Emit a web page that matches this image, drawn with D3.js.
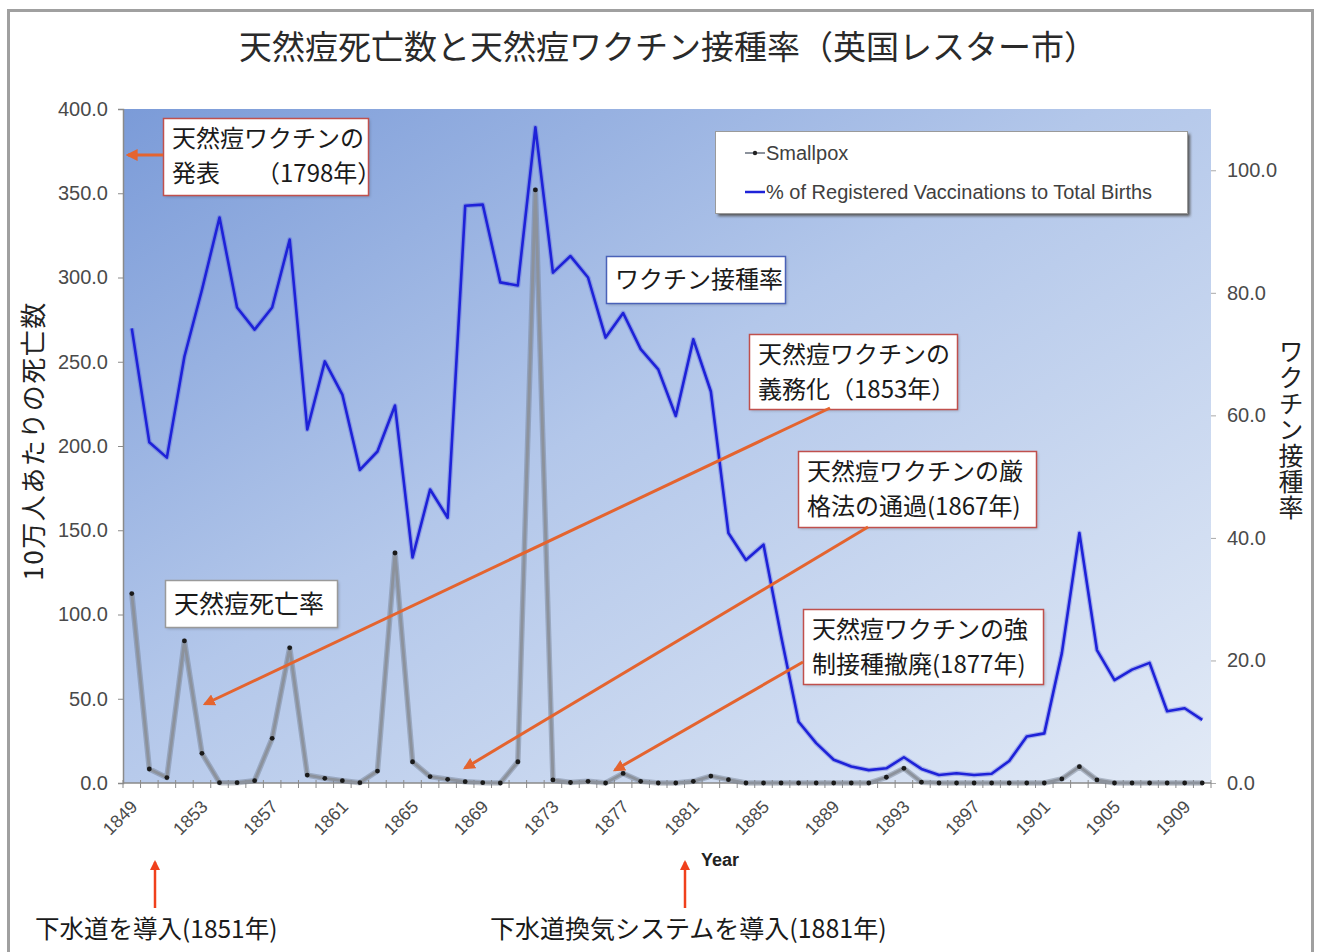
<!DOCTYPE html>
<html><head><meta charset="utf-8">
<script src="https://cdn.jsdelivr.net/npm/d3@7/dist/d3.min.js"></script>
<style>body{margin:0;background:#fff;}svg{display:block}</style>
</head><body>
<svg id="chart" width="1320" height="952"></svg>
<script>
// ---------- data ----------
const years = [1849,1850,1851,1852,1853,1854,1855,1856,1857,1858,1859,1860,1861,1862,1863,1864,1865,1866,1867,1868,1869,1870,1871,1872,1873,1874,1875,1876,1877,1878,1879,1880,1881,1882,1883,1884,1885,1886,1887,1888,1889,1890,1891,1892,1893,1894,1895,1896,1897,1898,1899,1900,1901,1902,1903,1904,1905,1906,1907,1908,1909,1910];
const smallpox = [112.4,8.3,3.2,84.3,17.6,0.2,0.2,1.4,26.5,80.2,4.7,2.8,1.4,0.2,7.1,136.5,12.6,3.8,2.2,0.8,0.2,0.0,12.6,352.0,1.8,0.3,1.0,0.0,5.7,1.0,0.0,0.0,1.0,4.1,2.0,0.0,0.0,0.0,0.0,0.0,0.0,0.0,0.0,3.4,8.7,0.5,0.0,0.0,0.0,0.0,0.0,0.0,0.0,2.4,9.7,1.8,0.0,0.0,0.0,0.0,0.0,0.0];
const vaccination = [74.2,55.6,53.1,69.6,80.5,92.3,77.6,74.0,77.6,88.7,57.7,68.8,63.4,51.1,54.1,61.6,36.8,47.9,43.3,94.2,94.4,81.7,81.2,107.0,83.3,86.0,82.5,72.7,76.7,70.8,67.5,59.9,72.4,63.9,40.8,36.4,38.9,24.0,10.0,6.5,3.8,2.7,2.1,2.4,4.2,2.3,1.3,1.6,1.3,1.5,3.6,7.6,8.1,21.2,40.8,21.7,16.8,18.5,19.6,11.7,12.2,10.3];
const yearLabels = [1849,1853,1857,1861,1865,1869,1873,1877,1881,1885,1889,1893,1897,1901,1905,1909];
const leftTicks = [0,50,100,150,200,250,300,350,400];
const rightTicks = [0,20,40,60,80,100];
const seriesNames = ["Smallpox","% of Registered Vaccinations to Total Births"];
const titleText = "天然痘死亡数と天然痘ワクチン接種率（英国レスター市）";
const leftTitle = "10万人あたりの死亡数";
const rightTitle = "ワクチン接種率";
const xTitle = "Year";

// ---------- layout ----------
const svg = d3.select("#chart");
const P = {l:123, r:1211, t:109, b:783};
const latin = "'Liberation Sans', Arial, sans-serif";
const jp = "'Noto Sans CJK JP', sans-serif";

const x = d3.scaleBand().domain(years).range([P.l, P.r]).padding(0);
const cx = d => x(d) + x.bandwidth()/2;
const yL = d3.scaleLinear().domain([0,400]).range([P.b, P.t]);
const yR = d3.scaleLinear().domain([0,110]).range([P.b, P.t]);

const defs = svg.append("defs");
const g = defs.append("linearGradient").attr("id","bg").attr("x1",0).attr("y1",0).attr("x2",1).attr("y2",1);
g.append("stop").attr("offset","0%").attr("stop-color","#7b9bd8");
g.append("stop").attr("offset","45%").attr("stop-color","#b3c7ea");
g.append("stop").attr("offset","100%").attr("stop-color","#e2eaf6");
const mk = defs.append("marker").attr("id","arr").attr("viewBox","0 0 10 10").attr("refX",8).attr("refY",5)
  .attr("markerWidth",4).attr("markerHeight",4).attr("orient","auto-start-reverse").attr("markerUnits","strokeWidth");
mk.append("path").attr("d","M0,0 L10,5 L0,10 z").attr("fill","#e4642f");
const mk2 = defs.append("marker").attr("id","arr2").attr("viewBox","0 0 10 10").attr("refX",8).attr("refY",5)
  .attr("markerWidth",4).attr("markerHeight",4).attr("orient","auto").attr("markerUnits","strokeWidth");
mk2.append("path").attr("d","M0,0 L10,5 L0,10 z").attr("fill","#f0401c");
const blur = defs.append("filter").attr("id","sh").attr("x","-5%").attr("y","-10%").attr("width","115%").attr("height","130%");
blur.append("feGaussianBlur").attr("stdDeviation",1.5);

// outer frame
svg.append("rect").attr("x",8.5).attr("y",10.5).attr("width",1304).attr("height",960)
  .attr("fill","#fff").attr("stroke","#a0a0a0").attr("stroke-width",3);

// title
svg.append("text").attr("x",668).attr("y",59).attr("text-anchor","middle")
  .attr("font-family",jp).attr("font-size",33).attr("fill","#2a2a2a").text(titleText);

// plot area
svg.append("rect").attr("x",P.l).attr("y",P.t).attr("width",P.r-P.l).attr("height",P.b-P.t).attr("fill","url(#bg)");

// left axis
const axL = svg.append("g").attr("transform",`translate(${P.l},0)`)
  .call(d3.axisLeft(yL).tickValues(leftTicks).tickFormat(d3.format(".1f")).tickSize(5).tickPadding(10));
axL.select(".domain").attr("stroke","#8a8a8a").attr("stroke-width",1.5);
axL.selectAll(".tick line").attr("stroke","#8a8a8a");
axL.selectAll("text").attr("font-family",latin).attr("font-size",20).attr("fill","#4a4a4a");

// right axis
const axR = svg.append("g").attr("transform",`translate(${P.r},0)`)
  .call(d3.axisRight(yR).tickValues(rightTicks).tickFormat(d3.format(".1f")).tickSize(5).tickPadding(11));
axR.select(".domain").remove();
axR.selectAll(".tick line").attr("stroke","#aaa");
axR.selectAll("text").attr("font-family",latin).attr("font-size",20).attr("fill","#4a4a4a");

// bottom axis
const axB = svg.append("g").attr("transform",`translate(0,${P.b})`);
axB.append("line").attr("x1",P.l).attr("x2",P.r).attr("stroke","#8a8a8a").attr("stroke-width",1.5);
axB.selectAll("line.tk").data(years.concat([null])).join("line").attr("class","tk")
  .attr("x1",(d,i)=> i<years.length ? x(d) : P.r).attr("x2",(d,i)=> i<years.length ? x(d) : P.r)
  .attr("y1",-3).attr("y2",5).attr("stroke","#8a8a8a");
axB.selectAll("text").data(yearLabels).join("text")
  .attr("transform",d=>`translate(${cx(d)-2},${16}) rotate(-45)`)
  .attr("text-anchor","end").attr("dy","0.7em")
  .attr("font-family",latin).attr("font-size",18).attr("fill","#4a4a4a").text(d=>d);

// axis titles
svg.append("text").attr("transform","translate(43,441) rotate(-90)").attr("text-anchor","middle")
  .attr("font-family",jp).attr("font-size",26).attr("letter-spacing",1.5).attr("fill","#222").text(leftTitle);
svg.append("text").attr("x",1291).attr("y",430).attr("text-anchor","middle")
  .style("writing-mode","vertical-rl").attr("font-family",jp).attr("font-size",25).attr("letter-spacing",1).attr("fill","#222").text(rightTitle);
svg.append("text").attr("x",720).attr("y",866).attr("text-anchor","middle")
  .attr("font-family",latin).attr("font-weight","bold").attr("font-size",18).attr("fill","#222").text(xTitle);

// smallpox line
const lineS = d3.line().x((d,i)=>cx(years[i])).y(d=>yL(d));
svg.append("path").datum(smallpox).attr("d",lineS).attr("fill","none")
  .attr("stroke","#6f7a8c").attr("stroke-width",5.5).attr("stroke-opacity",0.45).attr("stroke-linejoin","round");
svg.append("path").datum(smallpox).attr("d",lineS).attr("fill","none")
  .attr("stroke","#8c929c").attr("stroke-width",2.8).attr("stroke-linejoin","round");
svg.append("g").selectAll("circle").data(smallpox).join("circle")
  .attr("cx",(d,i)=>cx(years[i])).attr("cy",d=>yL(d)).attr("r",2.4).attr("fill","#1a1a1a");

// vaccination line
const lineV = d3.line().x((d,i)=>cx(years[i])).y(d=>yR(d));
svg.append("path").datum(vaccination).attr("d",lineV).attr("fill","none")
  .attr("stroke","#4a55e0").attr("stroke-width",5).attr("stroke-opacity",0.35).attr("stroke-linejoin","round");
svg.append("path").datum(vaccination).attr("d",lineV).attr("fill","none")
  .attr("stroke","#1e22d8").attr("stroke-width",2.6).attr("stroke-linejoin","round");

// legend
const lg = svg.append("g");
lg.append("rect").attr("x",718).attr("y",134).attr("width",472).attr("height",82).attr("fill","#555").attr("filter","url(#sh)");
lg.append("rect").attr("x",715.5).attr("y",131.5).attr("width",472).attr("height",82).attr("fill","#fff").attr("stroke","#9a9a9a");
lg.append("line").attr("x1",745).attr("x2",765).attr("y1",153).attr("y2",153).attr("stroke","#8c929c").attr("stroke-width",2);
lg.append("circle").attr("cx",755).attr("cy",153).attr("r",2.2).attr("fill","#222");
lg.append("line").attr("x1",745).attr("x2",765).attr("y1",192).attr("y2",192).attr("stroke","#1e22d8").attr("stroke-width",2.5);
lg.selectAll("text").data(seriesNames).join("text").attr("x",766).attr("y",(d,i)=>160+i*39)
  .attr("font-family",latin).attr("font-size",20).attr("fill","#404040").text(d=>d);

// annotations
const notes = [
  {x:163,y:118,w:205,h:77,stroke:"#c0504d",lines:["天然痘ワクチンの","発表　　（1798年）"],fs:24},
  {x:606,y:256,w:179,h:47,stroke:"#4a62b8",lines:["ワクチン接種率"],fs:24},
  {x:749,y:334,w:208,h:75,stroke:"#c0504d",lines:["天然痘ワクチンの","義務化（1853年）"],fs:24},
  {x:798,y:451,w:238,h:76,stroke:"#c0504d",lines:["天然痘ワクチンの厳","格法の通過(1867年)"],fs:24},
  {x:803,y:609,w:240,h:75,stroke:"#c0504d",lines:["天然痘ワクチンの強","制接種撤廃(1877年)"],fs:24},
  {x:165,y:580,w:172,h:47,stroke:"#9a9a9a",lines:["天然痘死亡率"],fs:25}
];
const ng = svg.append("g");
notes.forEach(n=>{
  ng.append("rect").attr("x",n.x+2).attr("y",n.y+2).attr("width",n.w).attr("height",n.h).attr("fill","#000").attr("opacity",0.18).attr("filter","url(#sh)");
  ng.append("rect").attr("x",n.x+0.5).attr("y",n.y+0.5).attr("width",n.w).attr("height",n.h).attr("fill","#fff").attr("stroke",n.stroke).attr("stroke-width",1.5);
  const t = ng.append("text").attr("font-family",jp).attr("font-size",n.fs).attr("fill","#1a1a1a");
  n.lines.forEach((l,i)=>{
    const top = n.lines.length===1 ? n.y + n.h/2 + n.fs*0.36 : n.y + 29 + i*35;
    t.append("tspan").attr("x",n.x+9).attr("y",top).text(l);
  });
});

// orange arrows
const arrows = [[163,155,128,155],[830,408,205,704],[868,527,465,768],[803,662,615,770]];
svg.append("g").selectAll("line").data(arrows).join("line")
  .attr("x1",d=>d[0]).attr("y1",d=>d[1]).attr("x2",d=>d[2]).attr("y2",d=>d[3])
  .attr("stroke","#e4642f").attr("stroke-width",3).attr("marker-end","url(#arr)");

// bottom red arrows + notes
svg.append("g").selectAll("line").data([[155,908,155,862],[685,908,685,862]]).join("line")
  .attr("x1",d=>d[0]).attr("y1",d=>d[1]).attr("x2",d=>d[2]).attr("y2",d=>d[3])
  .attr("stroke","#f0401c").attr("stroke-width",2.5).attr("marker-end","url(#arr2)");
svg.append("text").attr("x",35).attr("y",938).attr("font-family",jp).attr("font-size",24.5).attr("fill","#1a1a1a").text("下水道を導入(1851年)");
svg.append("text").attr("x",490).attr("y",938).attr("font-family",jp).attr("font-size",25).attr("fill","#1a1a1a").text("下水道換気システムを導入(1881年)");
</script>
</body></html>
